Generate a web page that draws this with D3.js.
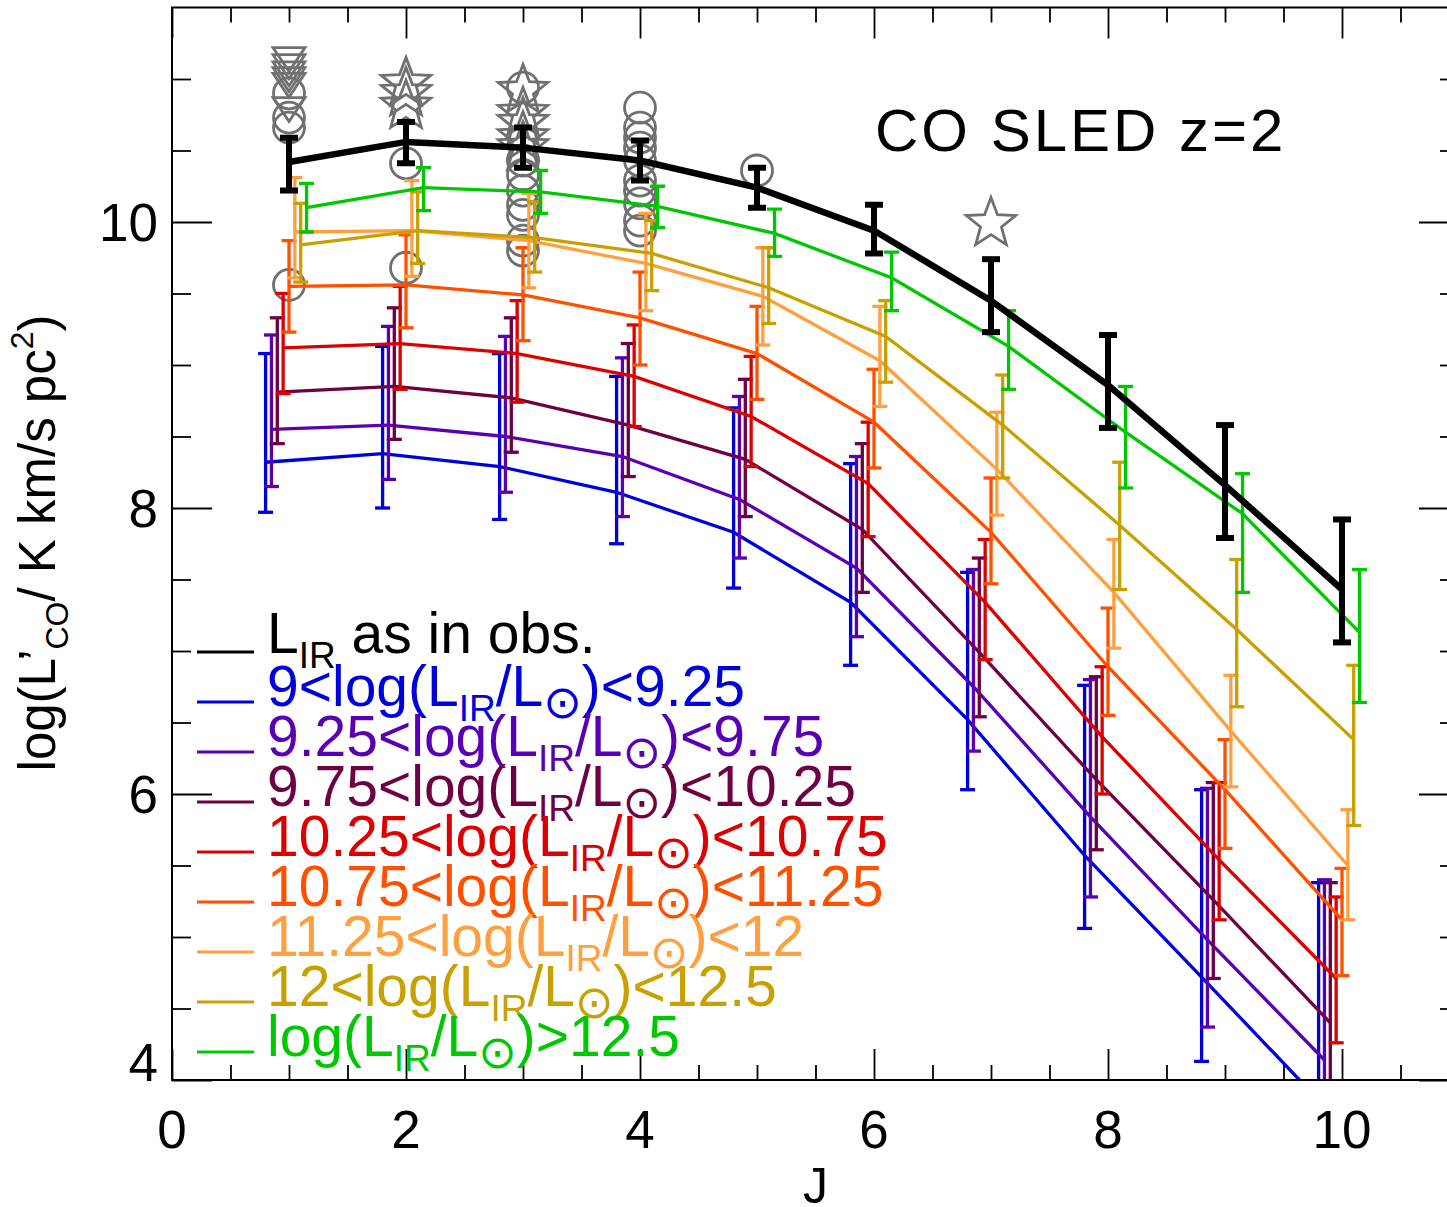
<!DOCTYPE html>
<html><head><meta charset="utf-8">
<script src="https://cdn.jsdelivr.net/npm/d3@7"></script>
<style>
body{margin:0;background:#fff}
svg{display:block}
text{font-family:"Liberation Sans",Arial,Helvetica,sans-serif}
</style>
</head><body>
<svg id="chart" width="1447" height="1207"></svg>
<script>
// ---------------- DATA ----------------
const J = [1,2,3,4,5,6,7,8,9,10];

// L_IR as in observations (black)
const obsVal = [10.42,10.56,10.52,10.43,10.24,9.94,9.45,8.86,8.16,7.43];
const obsLo  = [10.22,10.41,10.38,10.29,10.10,9.78,9.23,8.56,7.79,7.06];
const obsHi  = [10.59,10.70,10.66,10.57,10.38,10.12,9.74,9.21,8.58,7.92];

// 9 < log(LIR/Lsun) < 9.25
const b1Val = [8.32,8.38,8.29,8.11,7.83,7.34,6.52,5.57,4.72,3.86];
const b1Lo  = [7.97,8.00,7.92,7.75,7.44,6.90,6.03,5.06,4.13,3.30];
const b1Hi  = [9.08,9.13,9.08,8.92,8.70,8.31,7.55,6.76,6.03,5.38];
// 9.25 < log < 9.75
const b2Val = [8.55,8.58,8.50,8.36,8.06,7.58,6.75,5.84,4.98,4.14];
const b2Lo  = [8.15,8.20,8.11,7.94,7.65,7.10,6.30,5.28,4.37,3.60];
const b2Hi  = [9.21,9.27,9.20,9.05,8.78,8.36,7.57,6.80,6.04,5.40];
// 9.75 < log < 10.25
const b3Val = [8.81,8.85,8.77,8.58,8.34,7.85,6.99,6.10,5.26,4.40];
const b3Lo  = [8.45,8.48,8.39,8.22,7.94,7.41,6.54,5.61,4.71,3.90];
const b3Hi  = [9.33,9.40,9.33,9.15,8.90,8.45,7.65,6.82,6.08,5.38];
// 10.25 < log < 10.75
const b4Val = [9.12,9.15,9.08,8.92,8.64,8.17,7.34,6.40,5.54,4.71];
const b4Lo  = [8.80,8.83,8.74,8.57,8.29,7.80,6.94,6.00,5.12,4.26];
const b4Hi  = [9.50,9.55,9.45,9.28,9.06,8.60,7.78,6.89,6.08,5.28];
// 10.75 < log < 11.25
const b5Val = [9.55,9.56,9.49,9.33,9.08,8.60,7.83,6.89,6.03,5.12];
const b5Lo  = [9.23,9.26,9.17,9.00,8.76,8.28,7.47,6.55,5.62,4.73];
const b5Hi  = [9.87,9.91,9.82,9.65,9.41,8.97,8.21,7.30,6.38,5.48];
// 11.25 < log < 12
const b6Val = [9.93,9.94,9.87,9.71,9.48,9.03,8.27,7.41,6.44,5.50];
const b6Lo  = [9.61,9.62,9.54,9.38,9.14,8.71,7.95,7.02,6.05,5.12];
const b6Hi  = [10.31,10.29,10.20,10.06,9.82,9.41,8.67,7.78,6.83,5.89];
// 12 < log < 12.5
const b7Val = [9.84,9.94,9.89,9.78,9.54,9.20,8.58,7.88,7.15,6.38];
const b7Lo  = [9.58,9.71,9.65,9.52,9.29,8.88,8.21,7.43,6.61,5.78];
const b7Hi  = [10.13,10.21,10.14,10.01,9.82,9.45,8.93,8.32,7.64,6.90];
// log > 12.5
const b8Val = [10.10,10.24,10.21,10.11,9.92,9.61,9.13,8.53,7.96,7.13];
const b8Lo  = [9.93,10.08,10.06,9.96,9.76,9.38,8.83,8.14,7.41,6.64];
const b8Hi  = [10.27,10.38,10.36,10.25,10.09,9.79,9.38,8.85,8.24,7.57];

// legend bin edges
const binLow  = ["9","9.25","9.75","10.25","10.75","11.25","12"];
const binHigh = ["9.25","9.75","10.25","10.75","11.25","12","12.5"];
const binTop  = "12.5";

// observed galaxies (grey symbols)
const circJ = [1,1,1,1, 2,2, 3,3,3,3,3,3,3,3, 4,4,4,4,4,4,4,4,4,4, 5];
const circV = [10.90,10.73,10.66,9.56, 10.41,9.68,
               10.94,10.43,10.33,10.22,10.12,10.05,9.87,9.80,
               10.80,10.66,10.59,10.52,10.43,10.29,10.22,10.13,10.01,9.94,
               10.36];
const starJ = [2,2,2, 3,3,3,3,3, 7];
const starV = [10.99,10.92,10.83, 10.94,10.78,10.71,10.61,10.54, 10.01];
const limJ  = [1,1,1,1,1,1];
const limV  = [11.15,11.10,11.05,11.01,10.97,10.80];

// tick labels
const xTickLabels = [0,2,4,6,8,10];
const yTickLabels = [4,6,8,10];

// ---------------- STYLE ----------------
const colors = ["#0000dc","#5a00b4","#6e0044","#dc0000","#ff5000","#ffa040","#c8a000","#00c800"];
const dodge  = [-0.20,-0.15,-0.10,-0.05,0.00,0.05,0.10,0.15];
const grey = "#707070";

const bins = [
  {v:b1Val,lo:b1Lo,hi:b1Hi},{v:b2Val,lo:b2Lo,hi:b2Hi},{v:b3Val,lo:b3Lo,hi:b3Hi},
  {v:b4Val,lo:b4Lo,hi:b4Hi},{v:b5Val,lo:b5Lo,hi:b5Hi},{v:b6Val,lo:b6Lo,hi:b6Hi},
  {v:b7Val,lo:b7Lo,hi:b7Hi},{v:b8Val,lo:b8Lo,hi:b8Hi}
].map((s,i)=>({...s,color:colors[i],dx:dodge[i]}));

// ---------------- DRAW ----------------
const svg = d3.select("#chart");
const L=172, R=1459, T=7.5, B=1080;
const x = d3.scaleLinear().domain([0,11]).range([L,R]);
const y = d3.scaleLinear().domain([4,11.5]).range([B,T]);

svg.append("rect").attr("width",1447).attr("height",1207).attr("fill","#fff");
svg.append("clipPath").attr("id","clip").append("rect")
  .attr("x",L).attr("y",T).attr("width",R-L).attr("height",B-T);

const plot = svg.append("g").attr("clip-path","url(#clip)");

// grey observational symbols
const gObs = plot.append("g").attr("fill","none").attr("stroke",grey).attr("stroke-width",2.8);
gObs.selectAll("circle").data(circJ.map((j,i)=>[j,circV[i]])).join("circle")
  .attr("cx",d=>x(d[0])).attr("cy",d=>y(d[1])).attr("r",15.5);
const starPath = (()=>{const p=[];for(let k=0;k<10;k++){const r=k%2?11:26;const a=-Math.PI/2+k*Math.PI/5;p.push([r*Math.cos(a),r*Math.sin(a)]);}return "M"+p.join("L")+"Z";})();
gObs.selectAll("path.star").data(starJ.map((j,i)=>[j,starV[i]])).join("path").attr("class","star")
  .attr("d",starPath).attr("transform",d=>`translate(${x(d[0])},${y(d[1])+3})`);
gObs.selectAll("path.lim").data(limJ.map((j,i)=>[j,limV[i]])).join("path").attr("class","lim")
  .attr("d","M-16,-10L16,-10L0,14Z").attr("transform",d=>`translate(${x(d[0])},${y(d[1])})`);

// model SLEDs with error bars
function drawSeries(g, s, lw, ew, cap, color, dx){
  const pts = J.map((j,i)=>({j:j+dx,v:s.v[i],lo:s.lo[i],hi:s.hi[i]}));
  g.append("path").datum(pts).attr("fill","none").attr("stroke",color).attr("stroke-width",lw)
    .attr("stroke-linejoin","miter")
    .attr("d",d3.line().x(d=>x(d.j)).y(d=>y(d.v)));
  const eb = g.append("g").attr("stroke",color).attr("stroke-width",ew);
  eb.selectAll("line.v").data(pts).join("line").attr("class","v")
    .attr("x1",d=>x(d.j)).attr("x2",d=>x(d.j)).attr("y1",d=>y(d.lo)).attr("y2",d=>y(d.hi));
  eb.selectAll("line.t").data(pts).join("line").attr("class","t")
    .attr("x1",d=>x(d.j)-cap).attr("x2",d=>x(d.j)+cap).attr("y1",d=>y(d.hi)).attr("y2",d=>y(d.hi));
  eb.selectAll("line.b").data(pts).join("line").attr("class","b")
    .attr("x1",d=>x(d.j)-cap).attr("x2",d=>x(d.j)+cap).attr("y1",d=>y(d.lo)).attr("y2",d=>y(d.lo));
}
bins.forEach(s=>drawSeries(plot.append("g"), s, 3.3, 3.3, 7.5, s.color, s.dx));
drawSeries(plot.append("g"), {v:obsVal,lo:obsLo,hi:obsHi}, 6.5, 6, 9, "#000", 0);

// axes (ticks inward)
function ax(gen, tr){ const g=svg.append("g").attr("transform",tr).call(gen); g.select(".domain").remove(); g.selectAll("line").attr("stroke","#000").attr("stroke-width",1.8); return g; }
const xMaj=[0,2,4,6,8,10], xMin=d3.range(0.5,11,0.5).filter(v=>v%2!==0);
const yMaj=[4,6,8,10], yMin=d3.range(4.5,11.5,0.5).filter(v=>v%2!==0);
ax(d3.axisBottom(x).tickValues(xMaj).tickSize(-31).tickFormat(""),`translate(0,${B})`);
ax(d3.axisBottom(x).tickValues(xMin).tickSize(-15).tickFormat(""),`translate(0,${B})`);
ax(d3.axisTop(x).tickValues(xMaj).tickSize(-31).tickFormat(""),`translate(0,${T})`);
ax(d3.axisTop(x).tickValues(xMin).tickSize(-15).tickFormat(""),`translate(0,${T})`);
ax(d3.axisLeft(y).tickValues(yMaj).tickSize(-40).tickFormat(""),`translate(${L},0)`);
ax(d3.axisLeft(y).tickValues(yMin).tickSize(-19).tickFormat(""),`translate(${L},0)`);
ax(d3.axisRight(y).tickValues(yMaj).tickSize(-40).tickFormat(""),`translate(${R},0)`);
ax(d3.axisRight(y).tickValues(yMin).tickSize(-19).tickFormat(""),`translate(${R},0)`);
svg.append("rect").attr("x",L).attr("y",T).attr("width",R-L).attr("height",B-T)
  .attr("fill","none").attr("stroke","#000").attr("stroke-width",2);

// tick labels
svg.append("g").selectAll("text").data(xTickLabels).join("text")
  .attr("x",d=>x(d)).attr("y",1148).attr("text-anchor","middle").attr("font-size",53).text(d=>d);
svg.append("g").selectAll("text").data(yTickLabels).join("text")
  .attr("x",158).attr("y",d=>Math.min(y(d),1062)+19).attr("text-anchor","end").attr("font-size",53).text(d=>d);

// axis titles
svg.append("text").attr("x",815.5).attr("y",1203).attr("text-anchor","middle").attr("font-size",50).text("J");
const yl = svg.append("text").attr("transform","translate(55,543) rotate(-90)").attr("text-anchor","middle").attr("font-size",51);
yl.append("tspan").text("log(L’");
yl.append("tspan").attr("font-size",32).attr("dy",13).text("CO");
yl.append("tspan").attr("dy",-13).text("/ K km/s pc");
yl.append("tspan").attr("font-size",32).attr("dy",-22).text("2");
yl.append("tspan").attr("dy",22).text(")");

// title
svg.append("text").attr("x",875).attr("y",151).attr("font-size",60).attr("letter-spacing",3).text("CO SLED z=2");

// legend
const legRows = [{color:"#000",parts:[["L"],["IR","sub"],[" as in obs."]]}];
binLow.forEach((lo,i)=>legRows.push({color:colors[i],parts:[[lo+"<log(L"],["IR","sub"],["/L"],["⊙","sun"],[")<"+binHigh[i]]]}));
legRows.push({color:colors[7],parts:[["log(L"],["IR","sub"],["/L"],["⊙","sun"],[")>"+binTop]]});
const leg = svg.append("g");
legRows.forEach((row,i)=>{
  const ly = 652 + 50*i;
  leg.append("line").attr("x1",197).attr("x2",254).attr("y1",ly).attr("y2",ly)
    .attr("stroke",row.color).attr("stroke-width",3);
  const t = leg.append("text").attr("x",267).attr("y",ly+(i?4:1)).attr("font-size",57).attr("fill",row.color);
  let shift=0;
  row.parts.forEach(p=>{
    const ts=t.append("tspan").text(p[0]);
    let target = p[1]==="sub"?15:(p[1]==="sun"?12:0);
    ts.attr("dy",target-shift); shift=target;
    if(p[1]==="sub") ts.attr("font-size",37);
    if(p[1]==="sun") ts.attr("font-size",46).style("font-family","DejaVu Sans");
  });
});
</script>
</body></html>
